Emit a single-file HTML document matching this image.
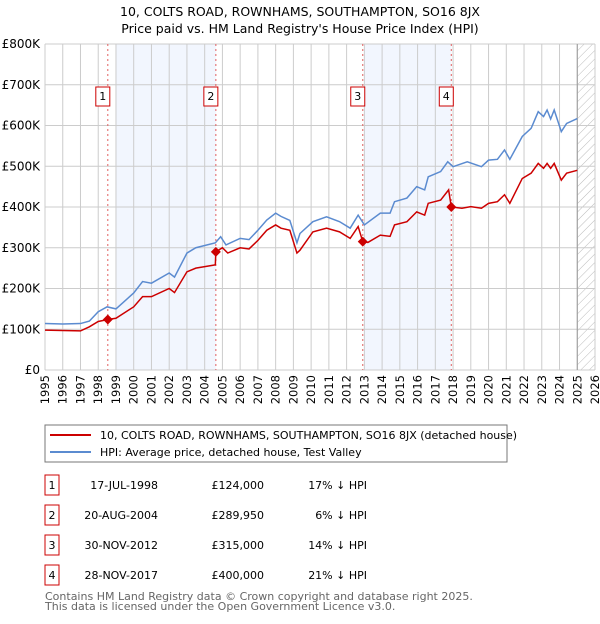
<!DOCTYPE html>
<html><head><meta charset="utf-8"><style>
body{margin:0;background:#fff;width:600px;height:620px;overflow:hidden;font-family:"DejaVu Sans","Liberation Sans",sans-serif;}
svg text{font-family:"DejaVu Sans","Liberation Sans",sans-serif;}
</style></head><body>
<svg id="c" width="600" height="620" xmlns="http://www.w3.org/2000/svg">
<defs><pattern id="hatch" width="6" height="6" patternUnits="userSpaceOnUse" patternTransform="rotate(45)"><line x1="0" y1="0" x2="0" y2="6" stroke="#bbb" stroke-width="1"/></pattern></defs>
<text x="300" y="16" text-anchor="middle" font-size="12.5" fill="#000">10, COLTS ROAD, ROWNHAMS, SOUTHAMPTON, SO16 8JX</text>
<text x="300" y="33" text-anchor="middle" font-size="12.5" fill="#000">Price paid vs. HM Land Registry's House Price Index (HPI)</text>
<g id="plot"></g>
<rect x="45" y="425" width="462" height="37" fill="#fff" stroke="#777"/>
<line x1="50" y1="435" x2="91" y2="435" stroke="#cc0000" stroke-width="2"/>
<text x="100" y="439" font-size="11">10, COLTS ROAD, ROWNHAMS, SOUTHAMPTON, SO16 8JX (detached house)</text>
<line x1="50" y1="452" x2="91" y2="452" stroke="#5b8bd0" stroke-width="2"/>
<text x="100" y="456" font-size="11">HPI: Average price, detached house, Test Valley</text>
<g id="table"></g>
<text x="45" y="600" font-size="11" fill="#666">Contains HM Land Registry data © Crown copyright and database right 2025.</text>
<text x="45" y="610" font-size="11" fill="#666">This data is licensed under the Open Government Licence v3.0.</text>
</svg>
<script>
const hpiYears=[1995,1996,1997,1997.5,1998,1998.5,1999,2000,2000.5,2001,2002,2002.3,2003,2003.5,2004.6,2004.9,2005.2,2006,2006.5,2007,2007.5,2008,2008.3,2008.8,2009.2,2009.37,2010.1,2010.87,2011.6,2012.2,2012.65,2013.0,2013.9,2014.45,2014.7,2015.4,2015.95,2016.4,2016.6,2017.3,2017.7,2018,2018.8,2019.6,2020,2020.5,2020.9,2021.2,2021.9,2022.4,2022.8,2023.1,2023.3,2023.5,2023.7,2024.1,2024.4,2025];
const hpiValues=[114,113,114,120,143,155,150,189,217,213,238,228,287,300,312,327,307,323,320,343,368,385,377,367,312,335,364,376,364,348,380,356,385,385,413,422,450,442,474,487,511,499,511,499,515,517,540,517,573,593,634,622,638,616,638,585,605,617];
const ppYears=[1995,1996,1997,1997.5,1998,1998.54,1999,2000,2000.5,2001,2002,2002.3,2003,2003.5,2004.6,2004.63,2005,2005.3,2006,2006.5,2007,2007.5,2008,2008.3,2008.8,2009.2,2009.37,2010.1,2010.87,2011.6,2012.2,2012.65,2012.91,2013.2,2013.9,2014.45,2014.7,2015.4,2015.95,2016.4,2016.6,2017.3,2017.75,2017.9,2018.5,2019,2019.6,2020,2020.5,2020.9,2021.2,2021.9,2022.4,2022.8,2023.1,2023.3,2023.5,2023.7,2024.1,2024.4,2025];
const ppValues=[98,97,96,106,119,124,127,155,180,180,200,190,241,250,258,290,300,287,300,297,318,343,356,348,343,287,294,339,348,339,323,352,315,313,331,328,356,364,388,380,409,417,442,400,397,401,397,409,413,430,409,470,483,507,495,507,495,507,466,483,490];
const saleYears=[1998.54,2004.63,2012.91,2017.9];
const saleValues=[124,289.95,315,400];
const saleLabels=["1","2","3","4"];
const saleDates=["17-JUL-1998","20-AUG-2004","30-NOV-2012","28-NOV-2017"];
const salePrices=["£124,000","£289,950","£315,000","£400,000"];
const saleDiffs=["17% ↓ HPI","6% ↓ HPI","14% ↓ HPI","21% ↓ HPI"];
const shadeStarts=[1999,2013];
const shadeEnds=[2004.63,2017.9];
const yTicks=[0,100,200,300,400,500,600,700,800];
const yTickLabels=["£0","£100K","£200K","£300K","£400K","£500K","£600K","£700K","£800K"];
const dataEnd=2025;

const NS="http://www.w3.org/2000/svg";
const L=45,R=595,T=44,B=370,X0=1995,X1=2026;
const x=v=>L+(v-X0)/(X1-X0)*(R-L);
const y=v=>B-v/800*(B-T);
const g=document.getElementById('plot');
function mk(tag,at,parent){const e=document.createElementNS(NS,tag);for(const k in at)e.setAttribute(k,at[k]);(parent||g).appendChild(e);return e;}

for(let i=0;i<shadeStarts.length;i++){
 const r=mk('rect',{x:x(shadeStarts[i]),y:T,width:x(shadeEnds[i])-x(shadeStarts[i]),height:B-T,fill:'#f2f6fe'});
 
 
}
const h=mk('rect',{x:x(dataEnd),y:T,width:R-x(dataEnd),height:B-T,fill:'url(#hatch)'});


for(let yr=X0;yr<=X1;yr++){
 const l=mk('line',{x1:x(yr),x2:x(yr),y1:T,y2:B,stroke:'#ccc','stroke-width':1});
 
 
 const t=mk('text',{x:0,y:0,'font-size':11.5,'text-anchor':'end',transform:`translate(${x(yr)+4},${B+5}) rotate(-90)`});
 t.textContent=yr;
 
 
}
for(let i=0;i<yTicks.length;i++){
 const l=mk('line',{x1:L,x2:R,y1:y(yTicks[i]),y2:y(yTicks[i]),stroke:'#ccc','stroke-width':1});
 
 
 const t=mk('text',{x:40,y:y(yTicks[i])+4,'font-size':12,'text-anchor':'end'});
 t.textContent=yTickLabels[i];
 
 
}
const el=mk('line',{x1:x(dataEnd),x2:x(dataEnd),y1:T,y2:B,stroke:'#999','stroke-width':1});


for(let i=0;i<saleYears.length;i++){
 const l=mk('line',{x1:x(saleYears[i]),x2:x(saleYears[i]),y1:T,y2:B,stroke:'#e06060','stroke-width':1,'stroke-dasharray':'2,3'});
 
 
}
const hp=mk('polyline',{points:hpiYears.map((v,i)=>x(v)+','+y(hpiValues[i])).join(' '),fill:'none',stroke:'#5b8bd0','stroke-width':1.5});


const pp=mk('polyline',{points:ppYears.map((v,i)=>x(v)+','+y(ppValues[i])).join(' '),fill:'none',stroke:'#cc0000','stroke-width':1.5});


for(let i=0;i<saleYears.length;i++){
 const cx=x(saleYears[i]),cy=y(saleValues[i]);
 const d=mk('polygon',{points:`${cx},${cy-5} ${cx+5},${cy} ${cx},${cy+5} ${cx-5},${cy}`,fill:'#cc0000'});
 
 
 const b=mk('rect',{x:cx-12,y:87,width:14,height:19,fill:'#fff',stroke:'#cc0000','stroke-width':1});
 
 
 const t=mk('text',{x:cx-5,y:100,'font-size':11,'text-anchor':'middle'});
 t.textContent=saleLabels[i];
 
 
}
const tg=document.getElementById('table');
for(let i=0;i<saleLabels.length;i++){
 const cy=482+i*30;
 const b=mk('rect',{x:45,y:cy-7,width:14,height:20,fill:'#fff',stroke:'#cc0000'},tg);
 
 
 const cells=[[52,'middle',saleLabels[i],'table-row-number'],[158,'end',saleDates[i],'table-date'],[264,'end',salePrices[i],'table-price'],[367,'end',saleDiffs[i],'table-hpi-diff']];
 for(const c of cells){
  const t=mk('text',{x:c[0],y:cy+7,'font-size':11,'text-anchor':c[1]},tg);
  t.textContent=c[2];
  
  
 }
}
</script>
</body></html>
